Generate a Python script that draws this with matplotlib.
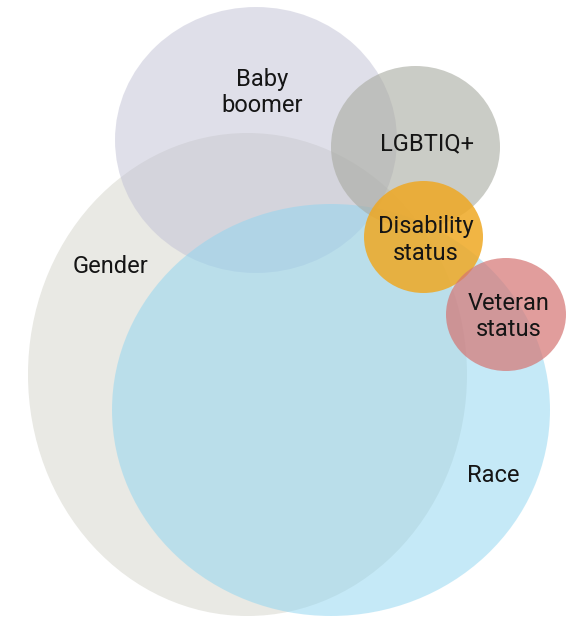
import matplotlib
matplotlib.use("Agg")
import matplotlib.pyplot as plt
from matplotlib.patches import Ellipse

plt.rcParams["font.family"] = ["Roboto", "DejaVu Sans"]

# groups, drawn back to front
groups = ["Gender", "Baby\nboomer", "Race", "LGBTIQ+", "Disability\nstatus", "Veteran\nstatus"]
# ellipse centres and extents, in picture pixels (y down)
centre_x = [247.5, 256, 331, 415.5, 423.5, 506]
centre_y = [374.5, 140, 410, 147, 237, 314.5]
width = [439, 282, 438, 169, 119, 120]
height = [483, 266, 412, 162, 112, 113]

# label anchors: x centre and first-line baseline
label_x = [110, 262, 493, 427, 426, 509]
label_y = [273, 86, 482, 150, 233, 310]

fills = ["#e9e9e4", "#c1c1d5", "#8dd5f1", "#a8aaa0", "#efa823", "#d57472"]
alphas = [1.0, 0.5, 0.5, 0.6, 0.85, 0.7]

W, H, DPI = 581, 620, 100
LINE_GAP = 26.5

fig = plt.figure(figsize=(W / DPI, H / DPI), dpi=DPI)
ax = fig.add_axes([0, 0, 1, 1])
ax.set_xlim(0, W)
ax.set_ylim(H, 0)
ax.set_aspect("equal")
ax.axis("off")

for i, name in enumerate(groups):
    ax.add_patch(Ellipse((centre_x[i], centre_y[i]), width[i], height[i],
                         facecolor=fills[i], alpha=alphas[i],
                         edgecolor="none", zorder=i + 1))

for i, name in enumerate(groups):
    for j, line in enumerate(name.split("\n")):
        ax.text(label_x[i], label_y[i] + j * LINE_GAP, line,
                ha="center", va="baseline", fontsize=17,
                color="#151515", zorder=20)

fig.savefig("out.png", dpi=DPI, facecolor="white")
